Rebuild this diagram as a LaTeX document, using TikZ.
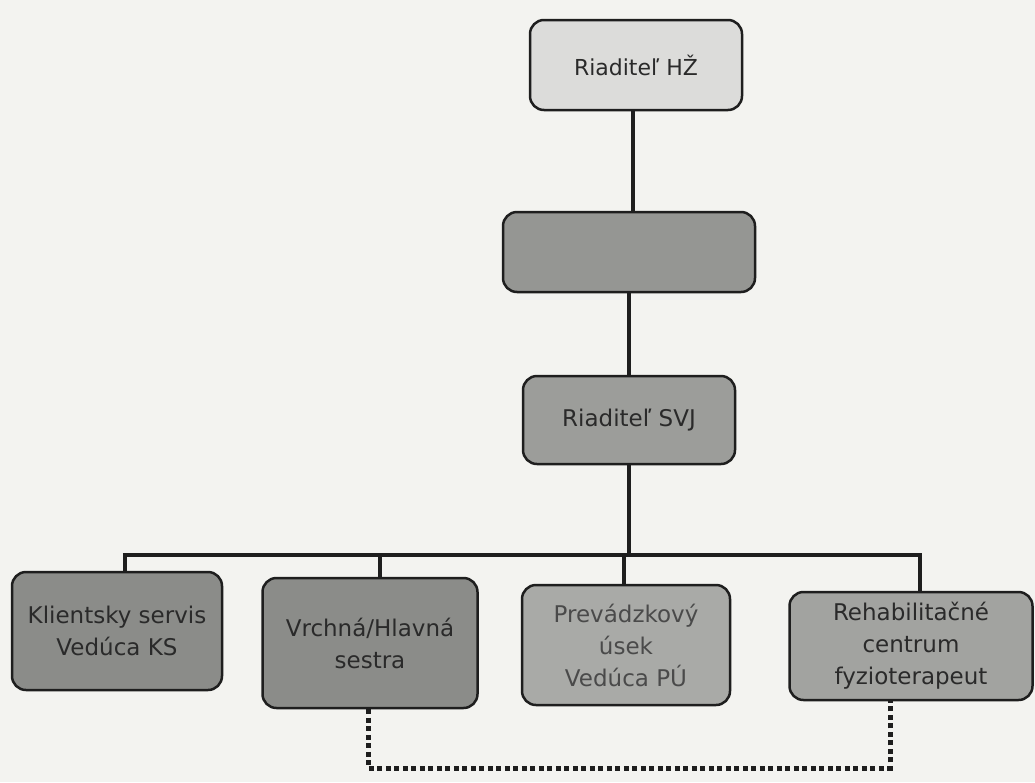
\documentclass[tikz,border=0pt]{standalone}
\usepackage{fontspec}
\setmainfont{DejaVu Sans}
\definecolor{bg}{HTML}{F3F3F0}
\definecolor{lite}{HTML}{DCDCDA}
\definecolor{mid}{HTML}{959693}
\definecolor{midb}{HTML}{9C9D9A}
\definecolor{dark}{HTML}{8B8C89}
\definecolor{pale}{HTML}{A9AAA7}
\definecolor{rehab}{HTML}{A2A3A0}
\definecolor{txt}{HTML}{2A2A2A}
\definecolor{txtp}{HTML}{4A4A4A}
\definecolor{ln}{HTML}{1E1E1E}
\begin{document}
\begin{tikzpicture}[x=1pt,y=-1pt,
  orgbox/.style={draw=ln,line width=2.5pt,rounded corners=14pt,align=center,
    font=\fontsize{23}{32}\selectfont,text=txt,inner sep=0pt},
  link/.style={draw=ln,line width=4.5pt},
  dotlink/.style={draw=ln,line width=5pt,dash pattern=on 5pt off 3.5pt}]
\fill[bg] (0,0) rectangle (1035,782);
\useasboundingbox (0,0) rectangle (1035,782);
\node[orgbox,fill=lite,minimum width=212pt,minimum height=90pt,font=\fontsize{22}{28}\selectfont] (hz) at (636,65) {Riaditeľ HŽ};
\node[orgbox,fill=mid,minimum width=252pt,minimum height=80pt] (blank) at (629,252) {};
\node[orgbox,fill=midb,minimum width=212pt,minimum height=88pt] (svj) at (629,420) {Riaditeľ SVJ};
\node[orgbox,fill=dark,minimum width=210pt,minimum height=118pt] (ks) at (117,631) {Klientsky servis\\Vedúca KS};
\node[orgbox,fill=dark,minimum width=215pt,minimum height=130pt] (vs) at (370,643) {Vrchná/Hlavná\\sestra};
\node[orgbox,fill=pale,text=txtp,minimum width=208pt,minimum height=120pt] (pu) at (626,645) {Prevádzkový\\úsek\\Vedúca PÚ};
\node[orgbox,fill=rehab,minimum width=243pt,minimum height=108pt] (rc) at (911,646) {Rehabilitačné\\centrum\\fyzioterapeut};
\coordinate (bus) at (629,555);
\coordinate (bk) at (125,555);
\coordinate (bv) at (380,555);
\coordinate (bp) at (624,555);
\coordinate (br) at (920,555);
\draw[link] (hz.south -| 633,0) -- (blank.north -| 633,0);
\draw[link] (blank.south) -- (svj.north);
\draw[link] (svj.south) -- (bus);
\draw[link] ([xshift=-2.25pt]bk) -- ([xshift=2.25pt]br);
\draw[link] (bk) -- (bk |- ks.north);
\draw[link] (bv) -- (bv |- vs.north);
\draw[link] (bp) -- (bp |- pu.north);
\draw[link] (br) -- (br |- rc.north);
\coordinate (dl) at (368,768);
\coordinate (dr) at (890,768);
\draw[dotlink] (vs.south -| dl) -- (dl) -- (dr) -- (rc.south -| dr);
\end{tikzpicture}
\end{document}
